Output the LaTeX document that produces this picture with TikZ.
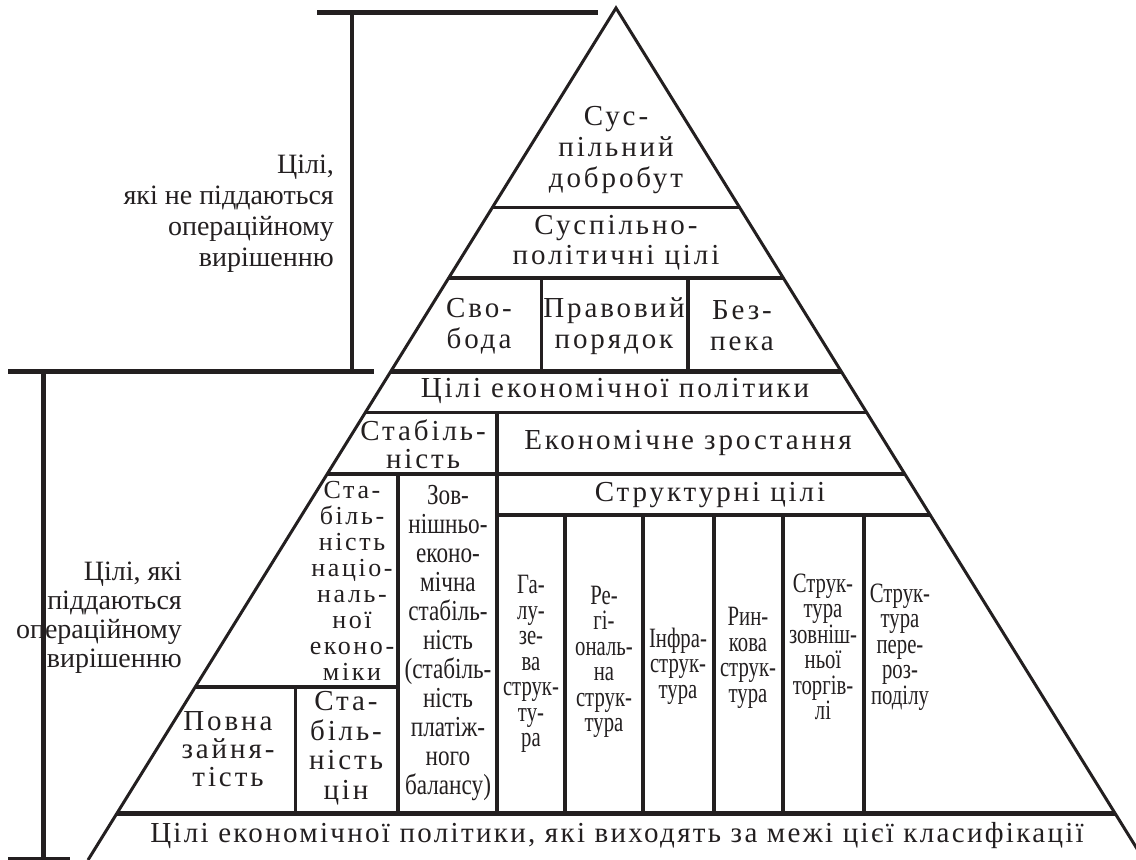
\documentclass[tikz,border=0pt]{standalone}
\usepackage{fontspec}
\setmainfont{Liberation Serif}
\newfontfamily\spaced[LetterSpace=10]{Liberation Serif}
\newfontfamily\narrow[FakeStretch=0.74]{Liberation Serif}
\newfontfamily\halfnarrow[FakeStretch=0.8]{Liberation Serif}
\usepackage{tikz}
\definecolor{ink}{RGB}{35,31,32}
\tikzset{
  seam/.style={draw=ink, line width=#1},
  seam/.default=3pt,
  txt/.style={text=ink, align=center, inner sep=0pt},
  wide/.style={txt, font=\spaced\fontsize{29}{#1}\selectfont},
  wide/.default=31,
  slim/.style={txt, font=\narrow\fontsize{28}{#1}\selectfont},
  slim/.default=25.5,
}

\begin{document}
\begin{tikzpicture}[x=1pt, y=-1pt]
  \useasboundingbox (0,0) rectangle (1136,860);
  % pyramid corners
  \coordinate (top) at (616,8);
  \coordinate (bl) at (88,860);
  \coordinate (br) at (1144,860);

  % horizontal rules, cut off at the slopes
  \begin{scope}
    \clip (top) -- (bl) -- (br) -- cycle;
    \draw[seam] (0,207) -- (1136,207);
    \draw[seam=4.5pt] (0,278) -- (1136,278);
    \draw[seam=5pt] (0,371) -- (1136,371);
    \draw[seam] (0,412) -- (1136,412);
    \draw[seam=4pt] (0,474) -- (1136,474);
    \draw[seam=3.5pt] (497,515) -- (1136,515);
    \draw[seam=3.5pt] (0,687) -- (398,687);
    \draw[seam=5pt] (0,813) -- (1136,813);
  \end{scope}
  % vertical rules
  \draw[seam] (541,278) -- (541,371);
  \draw[seam=4pt] (688,278) -- (688,371);
  \draw[seam=3.5pt] (497,412) -- (497,813);
  \draw[seam=4pt] (398,474) -- (398,813);
  \foreach \x in {565,643,714,783,864}
    \draw[seam=4pt] (\x,515) -- (\x,813);
  \draw[seam] (295,687) -- (295,813);
  \draw[seam, line join=miter] (bl) -- (top) -- (br);
  \draw[ink!50, line width=1pt] (bl) -- (br);

  % brackets on the left
  \draw[seam=5pt] (317,12) -- (598,12);
  \draw[seam=3.5pt] (352,12) -- (352,371);
  \draw[seam=5pt] (8,371) -- (374,371);
  \draw[seam=5pt] (43,371) -- (43,859);
  \draw[seam=5pt] (8,859) -- (70,859);

  \node[txt, align=right, anchor=east, font=\fontsize{28}{31}\selectfont] (nonop) at (334,214)
    {Цілі,\\які не піддаються\\операційному\\вирішенню};
  \node[txt, align=right, anchor=east, font=\fontsize{28}{29}\selectfont] (op) at (182,618)
    {Цілі, які\\піддаються\\операційному\\вирішенню};

  % upper levels
  \node[wide] (welfare) at (616,150) {Сус-\\пільний\\добробут};
  \node[wide=30] (social) at (616,243) {Суспільно-\\політичні цілі};
  \node[wide] (freedom) at (479,326) {Сво-\\бода};
  \node[wide] (order) at (614,326) {Правовий\\порядок};
  \node[wide] (safety) at (742,326) {Без-\\пека};
  \node[wide] (econpol) at (615,391) {Цілі економічної політики};
  \node[wide=28] (stab) at (423,444) {Стабіль-\\ність};
  \node[wide] (growth) at (688,443) {Економічне зростання};
  \node[wide] (struct) at (710,495) {Структурні цілі};

  % lower levels
  \node[txt, font=\spaced\fontsize{26}{26}\selectfont] (natecon) at (352,581)
    {Ста-\\біль-\\ність\\націо-\\наль-\\ної\\еконо-\\міки};
  \node[txt, font=\halfnarrow\fontsize{29}{29}\selectfont] (foreign) at (448,643)
    {Зов-\\нішньо-\\еконо-\\мічна\\стабіль-\\ність\\(стабіль-\\ність\\платіж-\\ного\\балансу)};
  \node[wide=28] (jobs) at (228,749) {Повна\\зайня-\\тість};
  \node[wide=29.5] (prices) at (346,748) {Ста-\\біль-\\ність\\цін};
  \foreach \nm/\x/\y/\lbl in {
      branch/531/664/{Га-\\лу-\\зе-\\ва\\струк-\\ту-\\ра},
      region/604/662/{Ре-\\гі-\\ональ-\\на\\струк-\\тура},
      infra/678/666/{Інфра-\\струк-\\тура},
      market/748/658/{Рин-\\кова\\струк-\\тура},
      trade/823/647/{Струк-\\тура\\зовніш-\\ньої\\торгів-\\лі},
      redist/900/647/{Струк-\\тура\\пере-\\роз-\\поділу}}
    \node[slim] (\nm) at (\x,\y) {\lbl};

  \node[txt, font=\spaced\fontsize{29}{31}\selectfont\addfontfeature{LetterSpace=8}] (beyond) at (617,836)
    {Цілі економічної політики, які виходять за межі цієї класифікації};
\end{tikzpicture}
\end{document}
